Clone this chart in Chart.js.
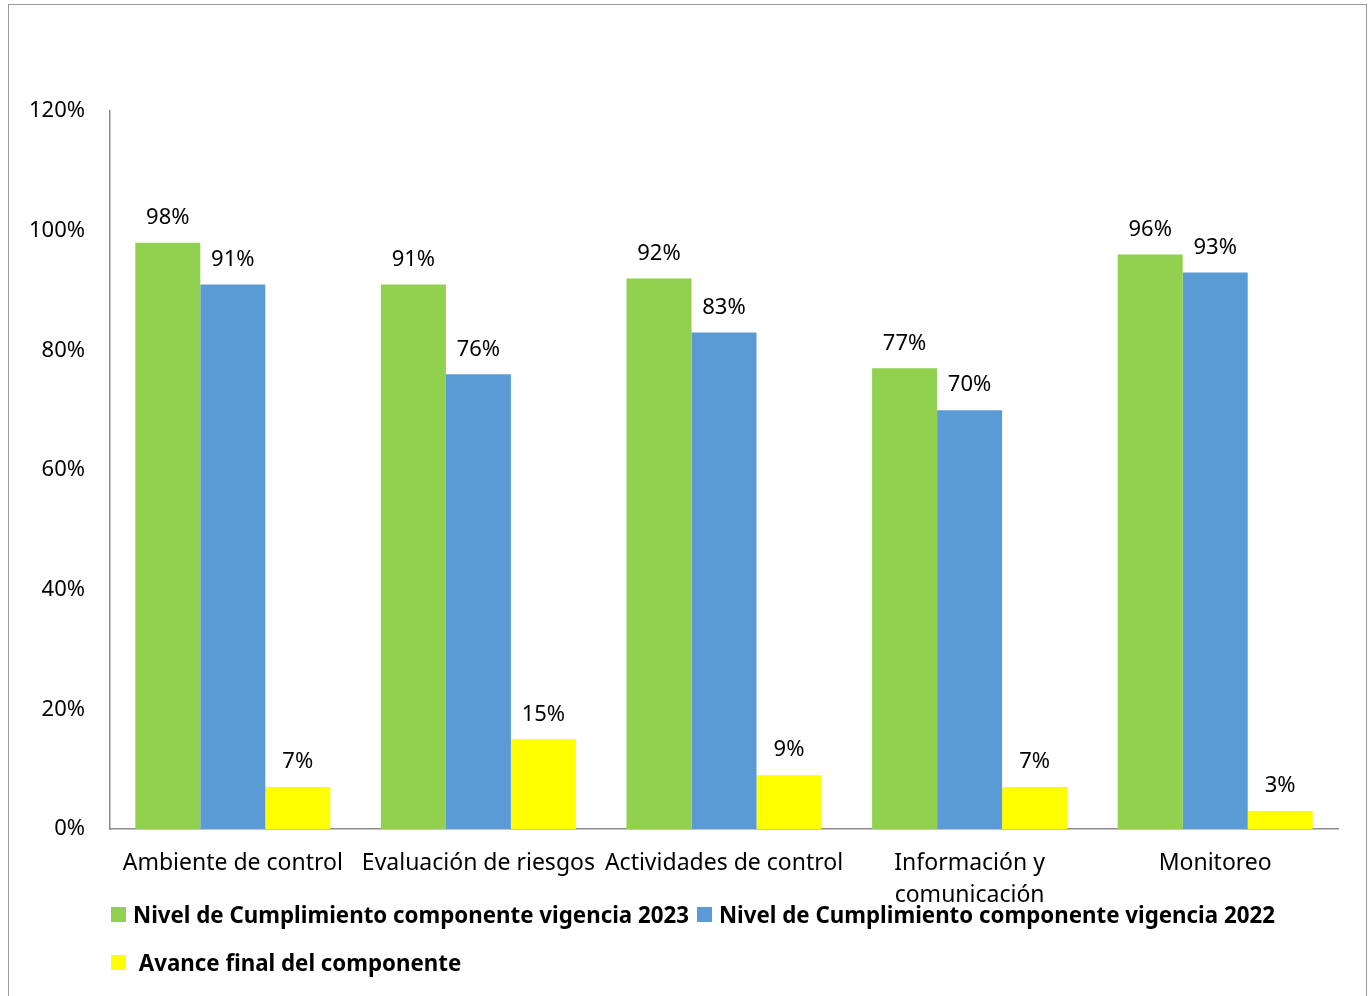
<!DOCTYPE html>
<html>
<head>
<meta charset="utf-8">
<script src="https://cdn.jsdelivr.net/npm/chart.js@4"></script>
<style>
  html, body { margin: 0; padding: 0; background: #fff; overflow: hidden; }
  #wrap { position: relative; width: 1371px; height: 996px; }
  #frame { position: absolute; left: 8px; top: 4px; width: 1359px; height: 1000px; border: 1px solid #9a9a9a; box-sizing: border-box; pointer-events: none; }
  #myChart { position: absolute; left: 0; top: 0; }
  .legendRow { position: absolute; left: 111px; display: flex; align-items: center; font-family: "Noto Sans", sans-serif; font-weight: bold; font-size: 22.3px; color: #000; white-space: nowrap; }
  .legendItem { display: flex; align-items: center; margin-right: 8px; }
  .legendBox { width: 15px; height: 15px; margin-right: 7px; }
</style>
</head>
<body>
<div id="wrap">
  <canvas id="myChart" width="1371" height="996"></canvas>
  <div id="frame"></div>
  <div id="legendRow1" class="legendRow" style="top: 899px;"></div>
  <div id="legendRow2" class="legendRow" style="top: 947px;"></div>
</div>

<script>
const categories = [
    'Ambiente de control',
    'Evaluación de riesgos',
    'Actividades de control',
    ['Información y', 'comunicación'],
    'Monitoreo'
];

const seriesNames = [
    'Nivel de Cumplimiento componente vigencia 2023',
    'Nivel de Cumplimiento componente vigencia 2022',
    ' Avance final del componente'
];

const vigencia2023 = [98, 91, 92, 77, 96];
const vigencia2022 = [91, 76, 83, 70, 93];
const avanceFinal = [7, 15, 9, 7, 3];

const yTicks = [0, 20, 40, 60, 80, 100, 120];

const seriesColors = ['#92D050', '#5B9BD5', '#FFFF00'];

const FONT = '"Noto Sans", sans-serif';

// labels with the percentage above each bar
const barValueLabels = {
    id: 'barValueLabels',
    afterDatasetsDraw(chart) {
        const ctx = chart.ctx;
        ctx.save();
        ctx.font = '22px ' + FONT;
        ctx.fillStyle = '#000';
        ctx.textAlign = 'center';
        ctx.textBaseline = 'middle';
        chart.data.datasets.forEach((dataset, i) => {
            const meta = chart.getDatasetMeta(i);
            meta.data.forEach((bar, j) => {
                ctx.fillText(Math.round(dataset.data[j]) + '%', bar.x, bar.y - 25);
            });
        });
        ctx.restore();
    }
};

const ctx = document.getElementById('myChart').getContext('2d');

const chart = new Chart(ctx, {
    type: 'bar',
    data: {
        labels: categories,
        datasets: [
            { label: seriesNames[0], data: vigencia2023, backgroundColor: seriesColors[0] },
            { label: seriesNames[1], data: vigencia2022, backgroundColor: seriesColors[1] },
            { label: seriesNames[2], data: avanceFinal, backgroundColor: seriesColors[2] }
        ]
    },
    options: {
        responsive: false,
        animation: false,
        layout: {
            padding: { top: 111, right: 33, left: 0, bottom: 0 }
        },
        datasets: {
            bar: { barPercentage: 1, categoryPercentage: 0.794 }
        },
        plugins: {
            legend: { display: false },
            tooltip: { enabled: false }
        },
        scales: {
            x: {
                grid: { display: false, drawTicks: false },
                border: { display: true, color: '#8c8c8c', width: 1.5 },
                ticks: {
                    color: '#000',
                    font: { family: FONT, size: 23, lineHeight: 1.4 },
                    padding: 18,
                    maxRotation: 0,
                    autoSkip: false
                },
                afterFit(scale) { scale.height = 167; }
            },
            y: {
                min: 0,
                max: 120,
                afterBuildTicks(scale) {
                    scale.ticks = yTicks.map(v => ({ value: v }));
                },
                grid: { display: false, drawTicks: false },
                border: { display: true, color: '#8c8c8c', width: 1.5 },
                ticks: {
                    color: '#000',
                    font: { family: FONT, size: 22 },
                    padding: 25,
                    callback: value => value + '%'
                },
                afterFit(scale) { scale.width = 110; }
            }
        }
    },
    plugins: [barValueLabels]
});

// legend in two rows below the axis
function buildLegend(chart) {
    const rows = [document.getElementById('legendRow1'), document.getElementById('legendRow1'), document.getElementById('legendRow2')];
    chart.data.datasets.forEach((dataset, i) => {
        const item = document.createElement('div');
        item.className = 'legendItem';
        item.innerHTML = `<div class="legendBox" style="background-color: ${dataset.backgroundColor};"></div><span style="white-space: pre;">${dataset.label}</span>`;
        rows[i].appendChild(item);
    });
}

buildLegend(chart);
</script>
</body>
</html>
